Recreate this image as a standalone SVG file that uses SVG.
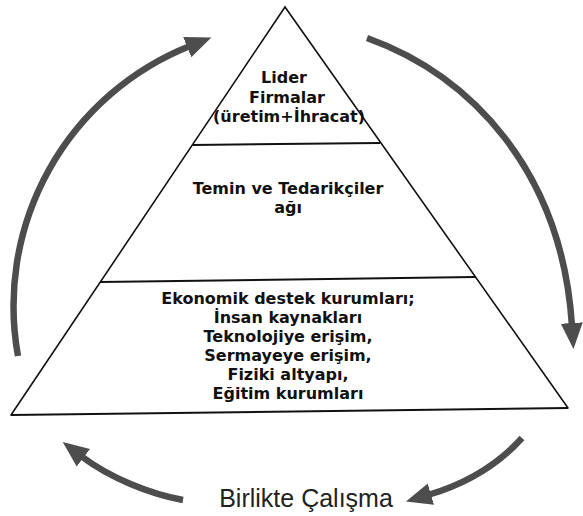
<svg xmlns="http://www.w3.org/2000/svg" width="583" height="516" viewBox="0 0 583 516">
<style>
.edge{fill:none;stroke:#111;stroke-width:1.6;stroke-linecap:round}
.div{fill:none;stroke:#111;stroke-width:2}
.lbl{font-family:"DejaVu Sans",sans-serif;font-weight:bold;font-size:16px;fill:#111;text-anchor:middle}
.cap{font-family:"Liberation Sans",Arial,sans-serif;font-size:25px;fill:#222;text-anchor:middle}
.arr{fill:none;stroke:#4d4d4d;stroke-width:6.5;stroke-linecap:butt}
</style>
<defs>
<marker id="ah" markerUnits="userSpaceOnUse" markerWidth="28" markerHeight="24" viewBox="0 0 28 24" refX="3" refY="12" orient="auto">
<path d="M0,1 L26,12 L0,23 z" fill="#4d4d4d"/>
</marker>
</defs>
<rect width="583" height="516" fill="#fff"/>
<g id="pyramid">
<path class="edge" d="M11,415 L285,7 L568,408"/>
<line class="div" x1="11" y1="415" x2="568" y2="408"/>
</g>
<g id="level1">
<line class="div" x1="193" y1="145" x2="380" y2="143"/>
<text class="lbl" x="284" y="83">Lider</text>
<text class="lbl" x="287" y="103">Firmalar</text>
<text class="lbl" x="289" y="122">(üretim+İhracat)</text>
</g>
<g id="level2">
<line class="div" x1="100" y1="282" x2="475" y2="277"/>
<text class="lbl" x="288" y="194">Temin ve Tedarikçiler</text>
<text class="lbl" x="288" y="213">ağı</text>
</g>
<g id="level3">
<text class="lbl" x="288" y="304">Ekonomik destek kurumları;</text>
<text class="lbl" x="288" y="323">İnsan kaynakları</text>
<text class="lbl" x="288" y="342">Teknolojiye erişim,</text>
<text class="lbl" x="288" y="361">Sermayeye erişim,</text>
<text class="lbl" x="288" y="380">Fiziki altyapı,</text>
<text class="lbl" x="288" y="399">Eğitim kurumları</text>
</g>
<g id="connectors">
<path class="arr" d="M18,356 A280,280 0 0 1 190,46" marker-end="url(#ah)"/>
<path class="arr" d="M367,38 C470,75 562,170 572,326" marker-end="url(#ah)"/>
<path class="arr" d="M522,438 C495,468 462,485 428,495" marker-end="url(#ah)"/>
<path class="arr" d="M183,500 C150,494 110,478 81,456" marker-end="url(#ah)"/>
</g>
<g id="caption">
<text class="cap" x="306" y="507">Birlikte Çalışma</text>
</g>
</svg>
